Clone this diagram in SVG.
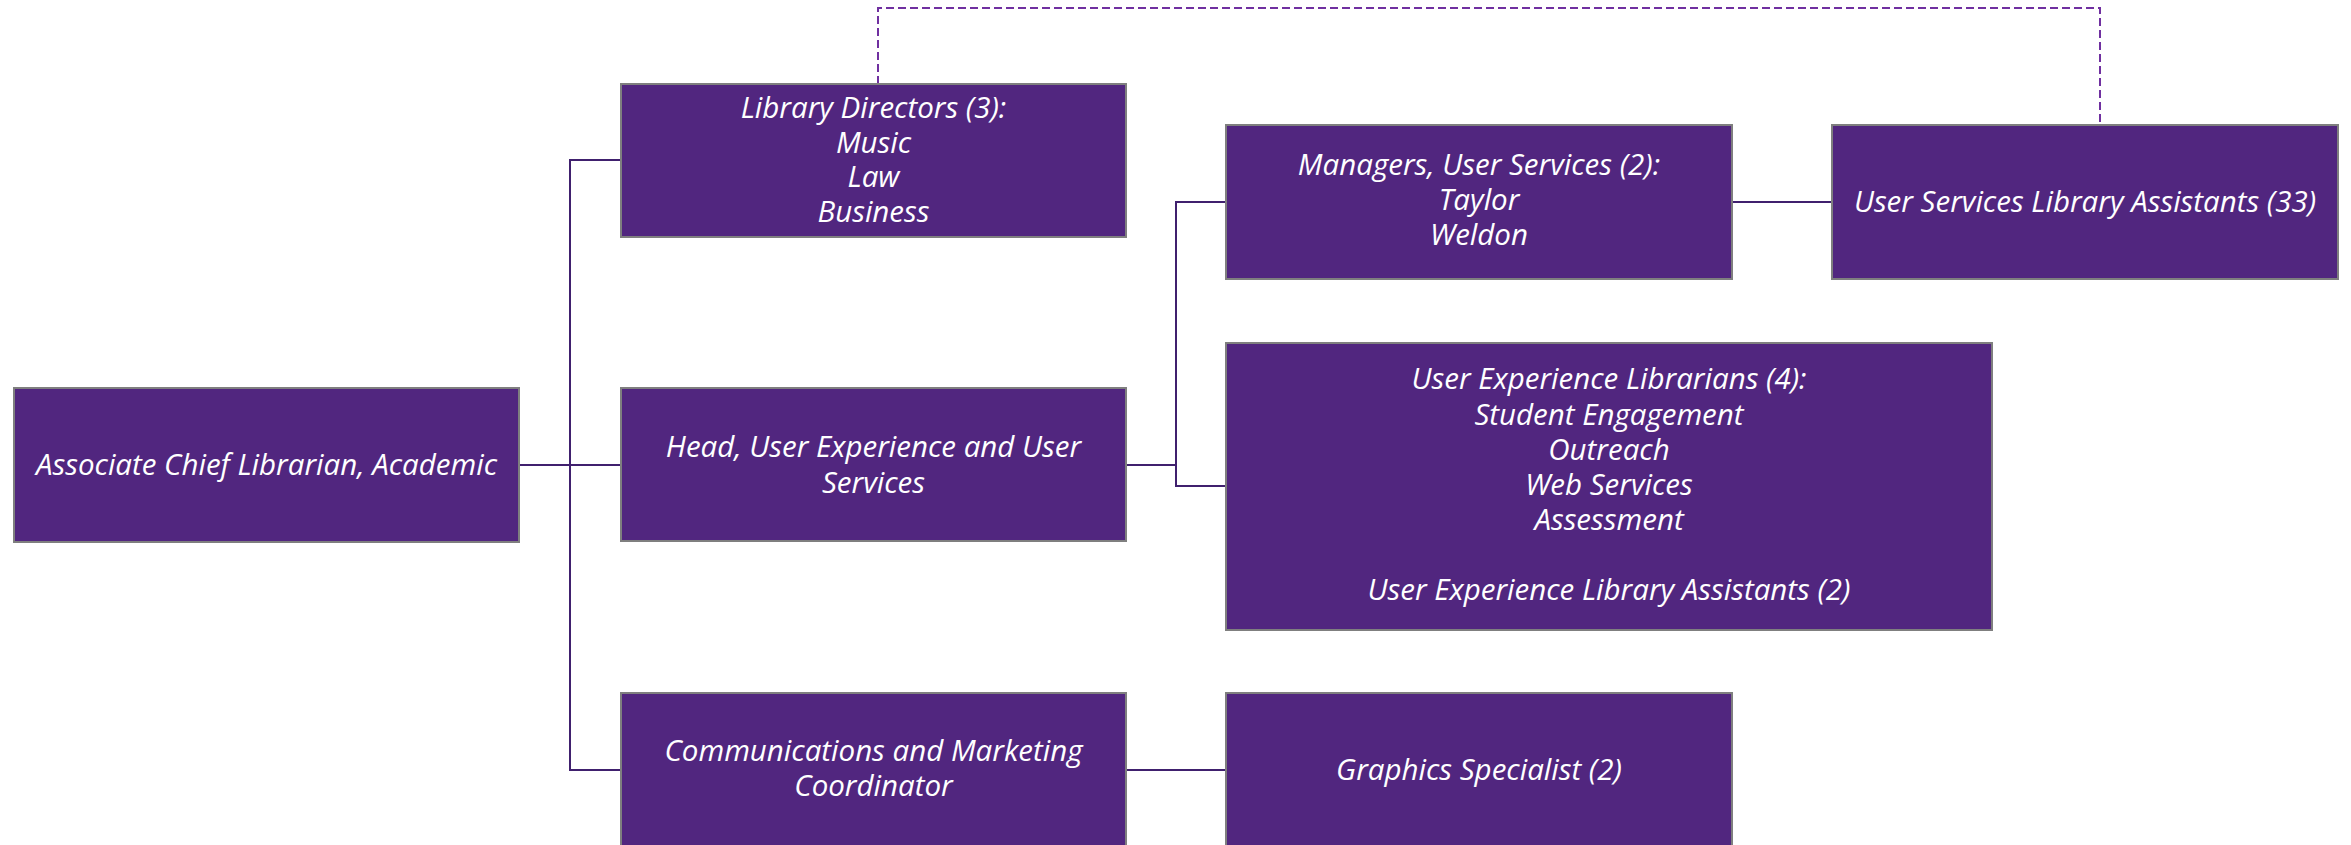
<svg xmlns="http://www.w3.org/2000/svg" width="2351" height="845" viewBox="0 0 2351 845">
<style>
.box{fill:#51267F;stroke:#7F7F7F;stroke-width:2}
.t{font-family:"Open Sans","Liberation Sans",sans-serif;font-style:italic;font-size:29.5px;fill:#FFFFFF;text-anchor:middle}
.c{fill:none;stroke:#40206E;stroke-width:2}
.d{fill:none;stroke:#7030A0;stroke-width:2;stroke-dasharray:8 4}
</style>
<rect width="2351" height="845" fill="#FFFFFF"/>
<g id="connectors">
<polyline class="c" points="519,465 570,465"/>
<polyline class="c" points="621,160 570,160 570,770 621,770"/>
<polyline class="c" points="570,465 621,465"/>
<polyline class="c" points="1126,465 1176,465"/>
<polyline class="c" points="1226,202 1176,202 1176,486 1226,486"/>
<polyline class="c" points="1732,202 1832,202"/>
<polyline class="c" points="1126,770 1226,770"/>
<polyline class="d" points="878,84 878,8 2100,8 2100,125"/>
</g>
<g id="associate-chief">
<rect class="box" x="14" y="388" width="505" height="154"/>
<text class="t" x="266.5" y="475">Associate Chief Librarian, Academic</text>
</g>
<g id="library-directors">
<rect class="box" x="621" y="84" width="505" height="153"/>
<text class="t" x="873.5" y="118">Library Directors (3):</text>
<text class="t" x="873.5" y="152.5">Music</text>
<text class="t" x="873.5" y="187">Law</text>
<text class="t" x="873.5" y="221.5">Business</text>
</g>
<g id="head-ux">
<rect class="box" x="621" y="388" width="505" height="153"/>
<text class="t" x="873.5" y="457">Head, User Experience and User</text>
<text class="t" x="873.5" y="493">Services</text>
</g>
<g id="comms">
<rect class="box" x="621" y="693" width="505" height="153"/>
<text class="t" x="873.5" y="761">Communications and Marketing</text>
<text class="t" x="873.5" y="796">Coordinator</text>
</g>
<g id="managers">
<rect class="box" x="1226" y="125" width="506" height="154"/>
<text class="t" x="1479" y="175">Managers, User Services (2):</text>
<text class="t" x="1479" y="210">Taylor</text>
<text class="t" x="1479" y="245">Weldon</text>
</g>
<g id="us-assistants">
<rect class="box" x="1832" y="125" width="506" height="154"/>
<text class="t" x="2085" y="212">User Services Library Assistants (33)</text>
</g>
<g id="ux-librarians">
<rect class="box" x="1226" y="343" width="766" height="287"/>
<text class="t" x="1609" y="389">User Experience Librarians (4):</text>
<text class="t" x="1609" y="424.5">Student Engagement</text>
<text class="t" x="1609" y="460">Outreach</text>
<text class="t" x="1609" y="495">Web Services</text>
<text class="t" x="1609" y="530">Assessment</text>
<text class="t" x="1609" y="600">User Experience Library Assistants (2)</text>
</g>
<g id="graphics">
<rect class="box" x="1226" y="693" width="506" height="153"/>
<text class="t" x="1479" y="780">Graphics Specialist (2)</text>
</g>
</svg>
